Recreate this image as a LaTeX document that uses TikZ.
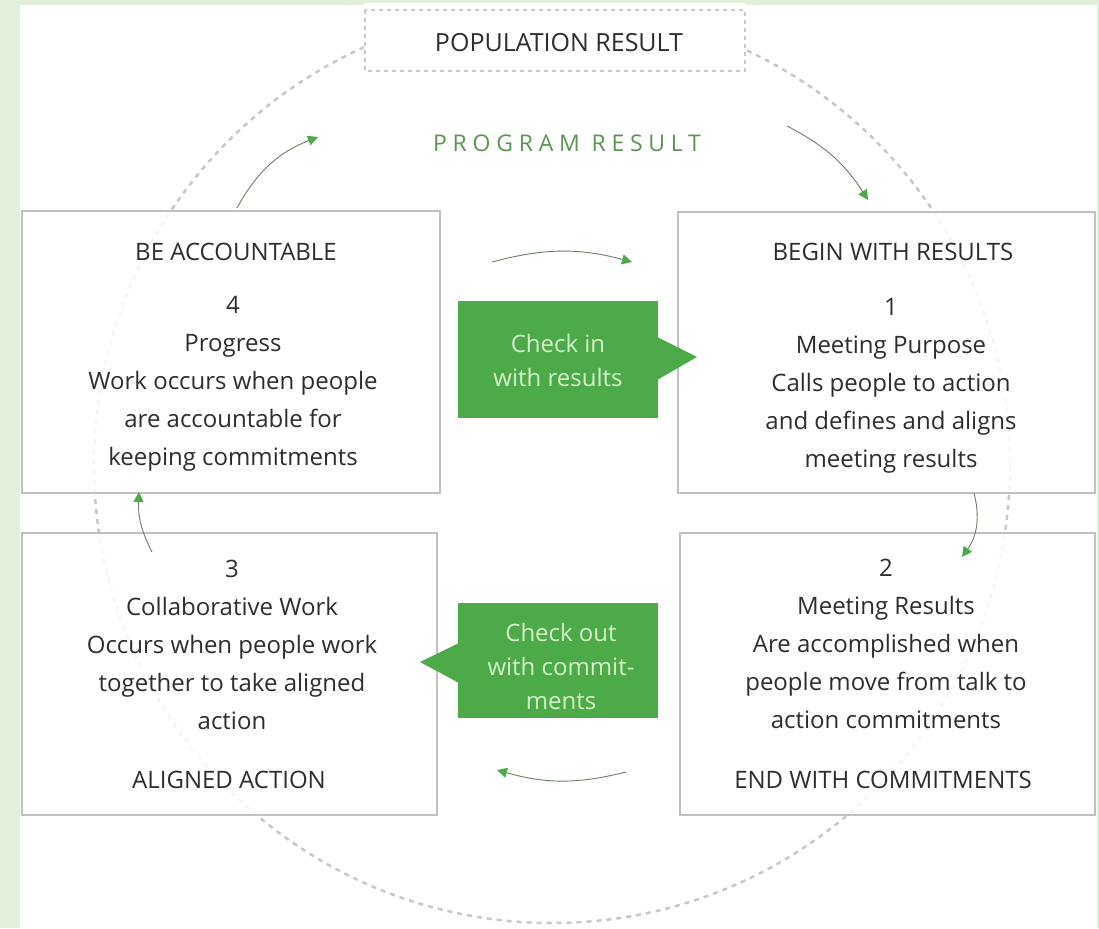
\documentclass[tikz,border=0pt]{standalone}
\usepackage{fontspec}
\setmainfont{Open Sans}
\usetikzlibrary{arrows.meta}
\definecolor{bg}{RGB}{226, 239, 217}
\definecolor{tag}{RGB}{76, 170, 72}
\definecolor{tagtxt}{RGB}{214, 240, 202}
\definecolor{ring}{RGB}{200, 200, 200}
\definecolor{frame}{RGB}{192, 192, 192}
\definecolor{ink}{RGB}{45, 45, 45}
\definecolor{stem}{RGB}{105, 128, 98}
\definecolor{prog}{RGB}{90, 150, 80}

\tikzset{
  card/.style={draw=frame, line width=1.5pt, fill=white, fill opacity=0.85, inner sep=0pt},
  txt/.style={text=ink, font=\fontsize{24}{38}\selectfont, align=center},
  tagtext/.style={text=tagtxt, font=\fontsize{24}{34}\selectfont, align=center},
  flow/.style={color=stem, line width=0.9pt, -{Triangle[length=10pt, width=10pt, color=tag]}},
}

\begin{document}
\begin{tikzpicture}[x=1pt, y=-1pt]
      \fill[bg] (0, 0) rectangle (1099, 928);
      \fill[white] (20, 5) rectangle (1097, 928);
      \draw[color=ring, line width=2.5pt, dash pattern=on 5pt off 5pt] (552, 465) circle (458);
      % population box
      \fill[white] (364, 3) rectangle (746, 71);
      \draw[color=ring, line width=1.5pt, dash pattern=on 4pt off 4pt] (365, 10) rectangle (745, 71);
      \node[txt, font=\fontsize{25}{30}\selectfont] (pop) at (559, 43) {POPULATION RESULT};
      \node[text=prog, font=\fontsize{23}{28}\selectfont\addfontfeatures{LetterSpace=25}] (prog) at (567, 143) {PROGRAM RESULT};
      % cards
      \node[card, minimum width=418pt, minimum height=282pt] (c4) at (231, 352) {};
      \node[card, minimum width=417pt, minimum height=281pt] (c1) at (886.5, 352.5) {};
      \node[card, minimum width=415pt, minimum height=282pt] (c3) at (229.5, 674) {};
      \node[card, minimum width=415pt, minimum height=282pt] (c2) at (887.5, 674) {};
      \node[txt] (h4) at (236, 252) {BE ACCOUNTABLE};
      \node[txt] (t4) at (233, 384) {4\\Progress\\Work occurs when people\\are accountable for\\keeping commitments};
      \node[txt] (h1) at (893, 252) {BEGIN WITH RESULTS};
      \node[txt] (t1) at (891, 386) {1\\Meeting Purpose\\Calls people to action\\and defines and aligns\\meeting results};
      \node[txt] (t3) at (232, 645) {3\\Collaborative Work\\Occurs when people work\\together to take aligned\\action};
      \node[txt] (f3) at (229, 780) {ALIGNED ACTION};
      \node[txt] (t2) at (886, 644) {2\\Meeting Results\\Are accomplished when\\people move from talk to\\action commitments};
      \node[txt] (f2) at (883, 780) {END WITH COMMITMENTS};
      % tags
      \fill[tag] (458, 301) rectangle (658, 418);
      \fill[tag] (657, 337) -- (697, 357) -- (657, 380) -- cycle;
      \node[tagtext] (checkin) at (558, 360) {Check in\\with results};
      \fill[tag] (458, 603) rectangle (658, 718);
      \fill[tag] (459, 643) -- (420, 662) -- (459, 683) -- cycle;
      \node[tagtext] (checkout) at (561, 666) {Check out\\with commit-\\ments};
      % flow arrows
      \coordinate (a1s) at (237, 208);
      \coordinate (a1e) at (318, 137);
      \coordinate (a2s) at (787, 126);
      \coordinate (a2e) at (868, 200);
      \coordinate (a3s) at (492, 262);
      \coordinate (a3e) at (632, 262);
      \coordinate (a4s) at (974, 493);
      \coordinate (a4e) at (962, 557);
      \coordinate (a5s) at (626, 772);
      \coordinate (a5e) at (497, 770);
      \coordinate (a6s) at (152, 552);
      \coordinate (a6e) at (139, 492);
      \draw[flow] (a1s) to[bend left=20] (a1e);
      \draw[flow] (a2s) to[bend left=15] (a2e);
      \draw[flow] (a3s) to[bend left=15] (a3e);
      \draw[flow] (a4s) to[bend left=25] (a4e);
      \draw[flow] (a5s) to[bend left=15] (a5e);
      \draw[flow] (a6s) to[bend left=15] (a6e);
\end{tikzpicture}
\end{document}
